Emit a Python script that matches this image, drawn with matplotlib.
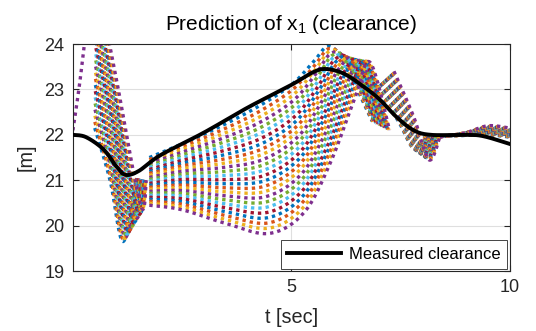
import numpy as np
import matplotlib
matplotlib.use("Agg")
import matplotlib.pyplot as plt

plt.rcParams["font.family"] = ["Liberation Sans", "DejaVu Sans"]
plt.rcParams["mathtext.fontset"] = "custom"
plt.rcParams["mathtext.rm"] = "Liberation Sans"
plt.rcParams["mathtext.it"] = "Liberation Sans"

# measured clearance (black line)
meas_t = [0.0, 0.3, 0.7, 1.0, 1.2, 1.5, 2.0, 3.0, 4.0, 5.0, 5.5, 5.8, 6.2, 6.6,
          7.0, 7.4, 7.8, 8.2, 9.0, 9.4, 10.0]
meas_v = [22.0, 21.95, 21.68, 21.3, 21.12, 21.2, 21.55, 22.05, 22.6, 23.1, 23.38,
          23.45, 23.35, 23.1, 22.8, 22.4, 22.1, 22.0, 22.0, 21.97, 21.8]

# number of predicted trajectories
N_PRED = 25

# single early prediction at the far left
lead_t = [0.0, 0.15, 0.3]
lead_v = [22.1, 23.1, 24.3]

# each prediction segment: anchor points of the first (s=0) and last (s=1) trajectory
seg2_top_t = [0.50, 0.85, 1.15, 1.45]
seg2_top_v = [22.15, 21.0, 19.65, 21.05]
seg2_bot_t = [0.55, 1.0, 1.55, 1.68]
seg2_bot_v = [25.4, 23.2, 20.45, 21.0]

seg3_top_t = [1.75, 2.5, 3.3, 4.2, 5.0, 5.5, 5.85, 6.2, 6.85]
seg3_top_v = [21.5, 21.8, 22.15, 22.6, 23.1, 23.6, 23.95, 23.6, 22.3]
seg3_bot_t = [1.75, 2.5, 3.5, 4.5, 5.3, 5.9, 6.45, 6.8, 7.25]
seg3_bot_v = [20.45, 20.35, 20.05, 19.83, 20.3, 21.4, 22.8, 23.6, 22.1]

seg4_top_t = [6.95, 7.45, 7.8, 8.05]
seg4_top_v = [23.05, 22.3, 21.7, 21.95]
seg4_bot_t = [7.35, 7.8, 8.15, 8.4]
seg4_bot_v = [23.4, 22.4, 21.45, 21.95]

seg5_top_t = [8.05, 8.8, 9.5, 10.0]
seg5_top_v = [21.95, 21.98, 22.0, 21.95]
seg5_bot_t = [8.4, 9.0, 9.5, 10.0]
seg5_bot_v = [21.95, 22.05, 22.2, 22.15]

SEGMENTS = [
    (seg2_top_t, seg2_top_v, seg2_bot_t, seg2_bot_v),
    (seg3_top_t, seg3_top_v, seg3_bot_t, seg3_bot_v),
    (seg4_top_t, seg4_top_v, seg4_bot_t, seg4_bot_v),
    (seg5_top_t, seg5_top_v, seg5_bot_t, seg5_bot_v),
]

COLORS = ["#0072BD", "#D95319", "#EDB120", "#7E2F8E", "#77AC30", "#4DBEEE", "#A2142F"]
INK = "#262626"


def smooth(t, v, n=16):
    """Catmull-Rom curve through the anchor points."""
    pts = np.column_stack([t, v]).astype(float)
    p = np.vstack([pts[0], pts, pts[-1]])
    u = np.linspace(0, 1, n, endpoint=False)[:, None]
    out = []
    for k in range(1, len(p) - 2):
        p0, p1, p2, p3 = p[k - 1], p[k], p[k + 1], p[k + 2]
        out.append(0.5 * (2 * p1 + (-p0 + p2) * u + (2 * p0 - 5 * p1 + 4 * p2 - p3) * u ** 2
                          + (-p0 + 3 * p1 - 3 * p2 + p3) * u ** 3))
    out.append(pts[-1:])
    xy = np.vstack(out)
    return xy[:, 0], xy[:, 1]


fig = plt.figure(figsize=(5.36, 3.31), dpi=100)
ax = fig.add_axes([0.136, 0.181, 0.815, 0.686])

dot = dict(ls=(0, (1, 1.2)), lw=2.4, dash_capstyle="butt")
for i in range(N_PRED):
    s = i / (N_PRED - 1)
    c = COLORS[i % len(COLORS)]
    for tt, tv, bt, bv in SEGMENTS:
        t = (1 - s) * np.array(tt) + s * np.array(bt)
        v = (1 - s) * np.array(tv) + s * np.array(bv)
        x, y = smooth(t, v)
        ax.plot(x, y, color=c, **dot)
ax.plot(*smooth(lead_t, lead_v), color=COLORS[3], **dot)

mx, my = smooth(meas_t, meas_v)
ax.plot(mx, my, color="k", lw=2.8, label="Measured clearance", zorder=5)

ax.set_xlim(0, 10)
ax.set_ylim(19, 24)
ax.set_xticks([5, 10])
ax.set_yticks([19, 20, 21, 22, 23, 24])
ax.grid(True, color="#dfdfdf", lw=0.8)
ax.set_axisbelow(True)
for sp in ax.spines.values():
    sp.set_color(INK)
    sp.set_linewidth(0.8)
ax.tick_params(direction="in", length=4, width=0.8, colors=INK, labelsize=13,
               top=True, right=True, pad=6)
ax.set_xlabel("t [sec]", fontsize=14.3, color=INK, labelpad=8)
ax.set_ylabel("[m]", fontsize=14.3, color=INK, labelpad=6)
ax.set_title("Prediction of x$_1$ (clearance)", fontsize=15, color="#000000", pad=10)

leg = ax.legend(loc="lower right", fontsize=12, handlelength=3.2, handletextpad=0.5,
                fancybox=False, borderaxespad=0.15, framealpha=1, edgecolor=INK)
leg.get_frame().set_linewidth(0.6)

fig.savefig("out.png", dpi=100)
